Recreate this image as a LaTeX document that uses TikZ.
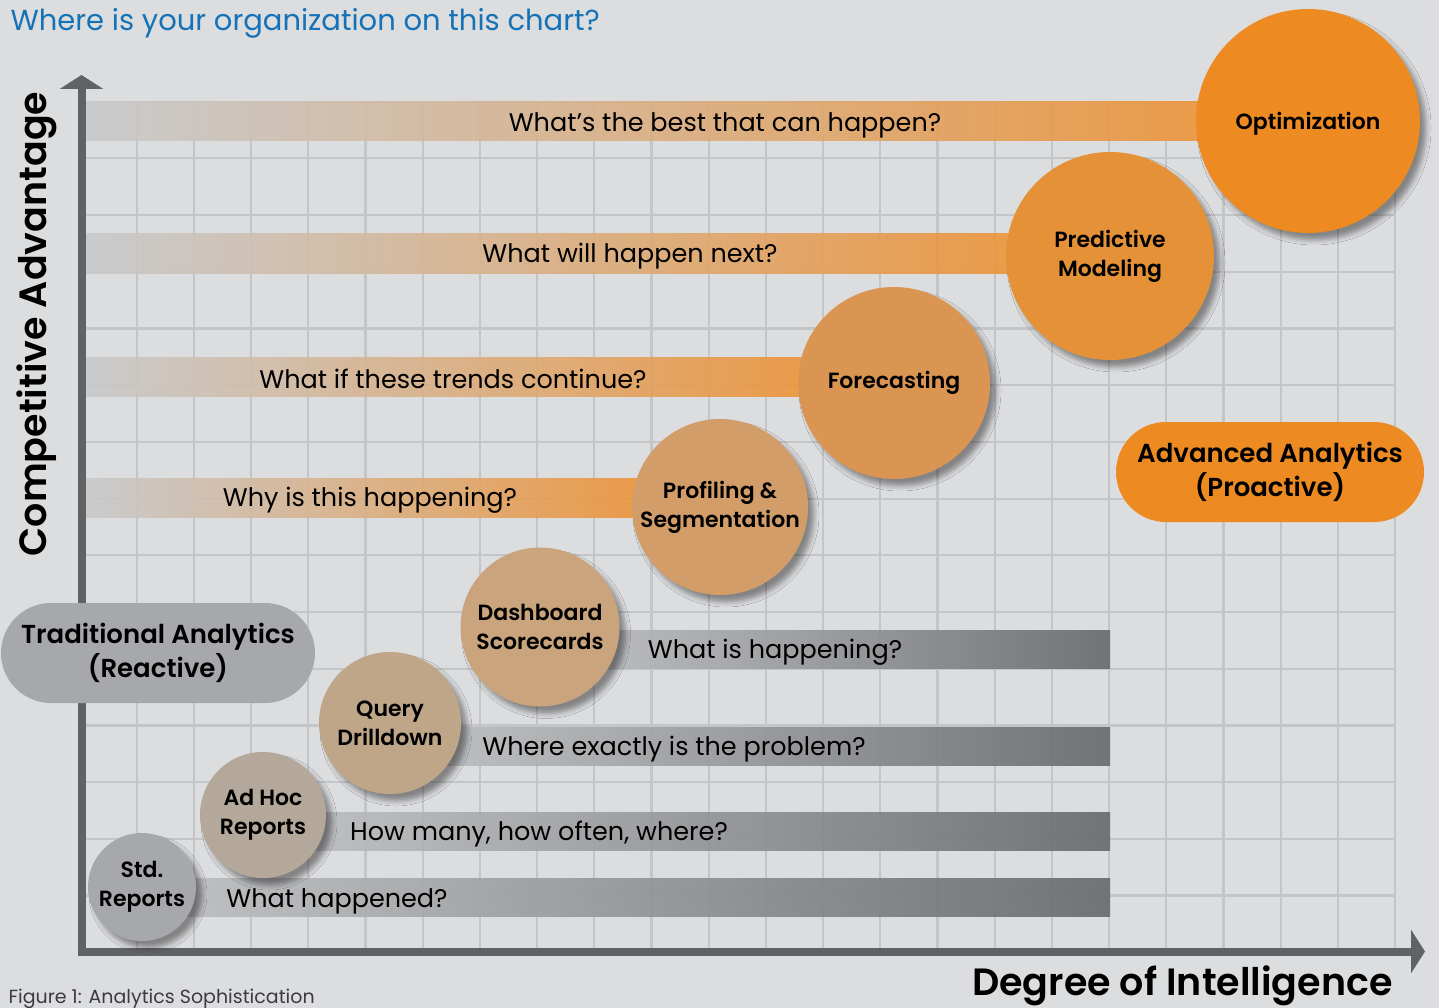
\documentclass[tikz,border=0pt]{standalone}
\usepackage{fontspec}
\setmainfont{Poppins}[BoldFont={Poppins SemiBold}]
\usetikzlibrary{arrows.meta,shadows.blur}

\definecolor{bggray}{RGB}{220,221,223}
\definecolor{gridgray}{RGB}{196,197,199}
\definecolor{axisgray}{RGB}{97,98,100}
\definecolor{titleblue}{RGB}{22,114,183}
\definecolor{capgray}{RGB}{60,60,62}
\definecolor{barleft}{RGB}{200,201,203}
\definecolor{bartan}{RGB}{214,182,150}
\definecolor{barorange}{RGB}{236,148,58}
\definecolor{barlight}{RGB}{190,191,193}
\definecolor{barmid}{RGB}{152,153,156}
\definecolor{bardark}{RGB}{106,107,110}
\definecolor{optimc}{RGB}{237,138,34}
\definecolor{predictc}{RGB}{229,145,56}
\definecolor{forecastc}{RGB}{219,149,83}
\definecolor{profilec}{RGB}{210,157,105}
\definecolor{dashc}{RGB}{201,164,124}
\definecolor{queryc}{RGB}{191,166,137}
\definecolor{adhocc}{RGB}{179,168,154}
\definecolor{stdc}{RGB}{167,168,171}

\newcommand{\titlefont}{\fontsize{29}{32}\selectfont}
\newcommand{\questfont}{\fontsize{25.5}{28}\selectfont}
\newcommand{\stagefont}{\fontsize{22}{29}\selectfont\bfseries}
\newcommand{\erafont}{\fontsize{26}{34}\selectfont\bfseries}
\newcommand{\axisfont}{\fontsize{38}{40}\selectfont\bfseries}
\newcommand{\capfont}{\fontsize{19}{20}\selectfont}

\begin{document}
\begin{tikzpicture}[x=1pt, y=-1pt,
    gridline/.style={draw=gridgray, line width=2.2pt},
    axisline/.style={draw=axisgray, line width=8pt, -{Triangle[width=43pt, length=14pt]}},
    orangebar/.style={left color=barleft, middle color=bartan, right color=barorange, opacity=0.9},
    graybar/.style={left color=barlight, middle color=barmid, right color=bardark, opacity=0.92},
    question/.style={font=\questfont},
    stage/.style={circle, inner sep=0pt, align=center, font=\stagefont,
        blur shadow={shadow xshift=6pt, shadow yshift=-7pt, shadow blur radius=5pt, shadow opacity=40}},
    era/.style={rectangle, rounded corners=50pt, minimum width=314pt, minimum height=100pt,
        align=center, font=\erafont}]
    \useasboundingbox (0,0) rectangle (1439,1008);
    \fill[bggray] (0,0) rectangle (1439,1008);

    % grid
    \foreach \i in {0,...,22}
        \draw[gridline] ({136.7+57.2*\i},101.7) -- ({136.7+57.2*\i},951);
    \foreach \j in {0,...,14}
        \draw[gridline] (85,{895.5-56.7*\j}) -- (1396,{895.5-56.7*\j});

    % question bars
    \foreach \top/\right in {102/1200, 234/1015, 357/805, 478/640}
        \shade[orangebar] (86,\top) rectangle (\right,{\top+39});
    \foreach \left/\top in {560/630, 420/727, 290/812, 160/878}
        \shade[graybar] (\left,\top) rectangle (1110,{\top+38});

    \node[question] (best) at (725,125) {What’s the best that can happen?};
    \node[question] (next) at (630,256) {What will happen next?};
    \node[question] (trends) at (453,379) {What if these trends continue?};
    \node[question] (why) at (370,500) {Why is this happening?};
    \node[question] (now) at (775,652) {What is happening?};
    \node[question] (problem) at (674,749) {Where exactly is the problem?};
    \node[question] (howmany) at (539,834) {How many, how often, where?};
    \node[question] (happened) at (337,901) {What happened?};

    % axes
    \draw[axisline] (81.5,955.5) -- (81.5,75);
    \draw[axisline] (77.5,951.5) -- (1425,951.5);

    % stages
    \node[stage, fill=stdc, minimum size=108pt] (stdrep) at (142,887) {Std.\\Reports};
    \node[stage, fill=adhocc, minimum size=126pt] (adhoc) at (263,815) {Ad Hoc\\Reports};
    \node[stage, fill=queryc, minimum size=142pt] (query) at (390,723) {Query\\Drilldown};
    \node[stage, fill=dashc, minimum size=159pt] (dash) at (540,627) {Dashboard\\Scorecards};
    \node[stage, fill=profilec, minimum size=176pt] (profile) at (720,507) {Profiling \&\\Segmentation};
    \node[stage, fill=forecastc, minimum size=192pt] (forecast) at (894,383) {Forecasting};
    \node[stage, fill=predictc, minimum size=208pt] (predict) at (1110,256) {Predictive\\Modeling};
    \node[stage, fill=optimc, minimum size=224pt, text depth=0pt] (optim) at (1308,121) {Optimization};

    % eras
    \node[era, fill=stdc] (reactive) at (158,653) {Traditional Analytics\\(Reactive)};
    \node[era, fill=optimc, minimum width=308pt] (proactive) at (1270,472) {Advanced Analytics\\(Proactive)};

    % labels
    \node[anchor=base west, font=\axisfont, inner sep=0pt] (xaxis) at (972,995) {Degree of Intelligence};
    \node[anchor=base west, font=\titlefont, text=titleblue] (title) at (7,31) {Where is your organization on this chart?};
    \node[anchor=base, rotate=90, font=\axisfont] (yaxis) at (46,324) {Competitive Advantage};
    \node[anchor=base west, font=\capfont, text=capgray] (caption) at (5,1003) {Figure 1: Analytics Sophistication};
\end{tikzpicture}
\end{document}
